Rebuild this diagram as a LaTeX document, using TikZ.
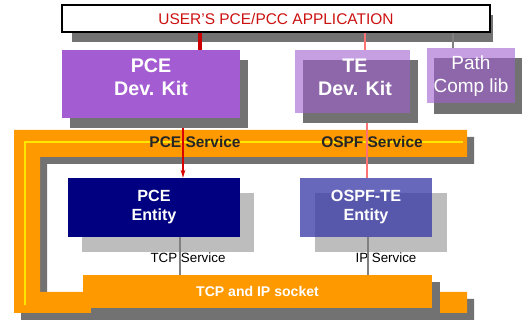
\documentclass[tikz,border=0pt]{standalone}
\usepackage{fontspec}
\setmainfont{Liberation Sans}
\usetikzlibrary{arrows.meta,backgrounds,calc}
\definecolor{kitpurple}{HTML}{A35CD2}
\definecolor{lilac}{HTML}{A060D0}
\definecolor{navy}{HTML}{000080}
\definecolor{slate}{HTML}{3535A5}
\definecolor{band}{HTML}{FF9900}
\definecolor{stripe}{HTML}{FFE600}
\definecolor{greyshadow}{HTML}{727272}
\definecolor{paleshade}{HTML}{BDBDBD}
\definecolor{appred}{HTML}{CC1111}
\definecolor{wire}{HTML}{808080}

\begin{document}
\begin{tikzpicture}[x=0.25mm, y=-0.25mm,
  box/.style={inner sep=0pt, align=center},
  kit/.style={box, fill=kitpurple, text=white, font=\fontsize{14}{16}\selectfont\bfseries},
  litekit/.style={kit, fill=lilac, fill opacity=.6, text opacity=1},
  kittext/.style={box, text=white, font=\fontsize{14}{16}\selectfont\bfseries},
  ent/.style={box, text=white, font=\fontsize{11.5}{13.5}\selectfont\bfseries},
  svc/.style={font=\fontsize{11}{13}\selectfont\bfseries, text=black!85},
  lbl/.style={font=\fontsize{9.5}{11}\selectfont, text=black},
  redlink/.style={draw=red!80!black, line width=2.5pt},
  redarr/.style={draw=red!85!black, line width=1.2pt, -{Stealth[length=2mm, width=1.2mm]}},
  pinkarr/.style={draw=red!55, line width=1pt},
  wirelink/.style={draw=wire, line width=2pt}]
  \useasboundingbox (0,0) rectangle (525,323);
  % application and kits
  \node[box, draw=black, line width=1pt, fill=white, text=appred,
    font=\fontsize{11}{13}\selectfont, minimum width=107mm, minimum height=6.75mm]
    (app) at (276,18.5) {USER'S PCE/PCC APPLICATION};
  \node[kit, minimum width=44.5mm, minimum height=17mm] (pcekit) at (151,84) {};
  \node[kittext] (pcekittxt) at (151,77) {PCE\\Dev. Kit};
  \node[litekit, minimum width=28.75mm, minimum height=15.75mm] (tekit) at (352.5,81.5) {};
  \node[kittext] (tekittxt) at (355,77.5) {TE\\Dev. Kit};
  \node[litekit, font=\fontsize{13.5}{16}\selectfont, minimum width=22mm, minimum height=13.75mm]
    (pathlib) at (471,76) {Path\\Comp lib};
  % entities and socket
  \node[ent, fill=navy, minimum width=43mm, minimum height=14.75mm] (pceent) at (154,207.5) {PCE\\Entity};
  \node[ent, fill=slate, fill opacity=.75, text opacity=1, minimum width=33mm, minimum height=14.75mm]
    (ospfent) at (366,207.5) {OSPF-TE\\Entity};
  \node[box, fill=band, text=white, font=\fontsize{10}{12}\selectfont\bfseries,
    minimum width=87.25mm, minimum height=8.25mm] (sock) at (257.5,291.5) {TCP and IP socket};
  % labels
  \node[svc] (pcesvc) at (195,142) {PCE Service};
  \node[svc] (ospfsvc) at (372,142) {OSPF Service};
  \node[lbl] (tcpsvc) at (188,258) {TCP Service};
  \node[lbl] (ipsvc) at (386,258) {IP Service};
  % links
  \path ([xshift=12.25mm]pcekit.north) coordinate (a1)
        ([xshift=3.1mm]tekit.north) coordinate (a2)
        ([xshift=-4.5mm]pathlib.north) coordinate (a3)
        ([xshift=8mm, yshift=-2.5mm]pcekit.south) coordinate (k1)
        ([xshift=3.6mm, yshift=-2.5mm]tekit.south) coordinate (k2)
        ([xshift=6.5mm]pceent.south) coordinate (e1)
        ([xshift=0.5mm]ospfent.south) coordinate (e2);
  \draw[redlink] (app.south -| a1) -- (a1);
  \draw[pinkarr] (app.south -| a2) -- (a2);
  \draw[wirelink, line width=1pt] (app.south -| a3) -- (a3);
  \draw[redarr] (k1) -- (k1 |- pceent.north);
  \draw[pinkarr] (k2) -- (k2 |- ospfent.north);
  \draw[wirelink] (e1) -- (e1 |- sock.north);
  \draw[wirelink] (e2) -- (e2 |- sock.north);
  % frame and shadows go underneath
  \begin{pgfonlayer}{background}
    \fill[white] (0,0) rectangle (525,323);
    \foreach \d/\col in {7/greyshadow, 0/band}
      \fill[\col, shift={(\d,\d)}] (14,130) -- (467,130) -- (467,157) -- (40,157)
        -- (40,292) -- (467,292) -- (467,313) -- (14,313) -- cycle;
    \draw[stripe, line width=2pt] (463,142) -- (25,142) -- (25,305);
    \fill[greyshadow] (72,15) rectangle (493,42);
    \fill[greyshadow] (91,282) rectangle (440,315);
    \foreach \n/\dx/\dy/\col in {pcekit/8/10/greyshadow, tekit/8/10/greyshadow,
        pathlib/7/10/greyshadow, pceent/14/15/paleshade, ospfent/15/15/paleshade}
      \fill[\col] ([shift={(\dx,\dy)}]\n.north west) rectangle ([shift={(\dx,\dy)}]\n.south east);
  \end{pgfonlayer}
\end{tikzpicture}
\end{document}
